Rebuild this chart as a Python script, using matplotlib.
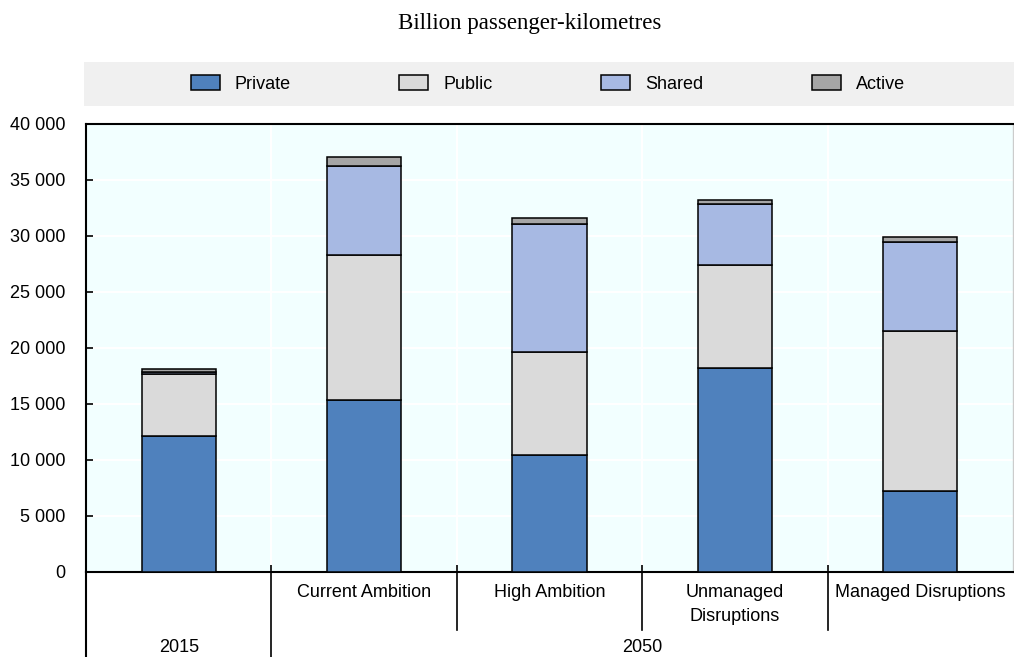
import matplotlib
matplotlib.use("Agg")
import matplotlib.pyplot as plt
from matplotlib.patches import Rectangle
from matplotlib.ticker import FuncFormatter
import numpy as np

# Data (billion passenger-km)
scenarios = ["", "Current Ambition", "High Ambition", "Unmanaged\nDisruptions", "Managed Disruptions"]
private = [12150, 15400, 10450, 18250, 7250]
public = [5500, 12900, 9200, 9150, 14300]
shared = [200, 7950, 11400, 5450, 7950]
active = [300, 830, 550, 330, 450]
series_names = ["Private", "Public", "Shared", "Active"]
colors = ["#4F81BD", "#DADADA", "#A7B9E3", "#A6A6A6"]

plt.rcParams["font.family"] = ["Liberation Sans", "DejaVu Sans"]
FS = 13

fig = plt.figure(figsize=(10.14, 6.57), dpi=100)
ax = fig.add_axes([86 / 1014, 1 - 572 / 657, 927 / 1014, 448 / 657])
ax.set_facecolor("#F2FFFF")

x = np.arange(len(scenarios))
bottom = np.zeros(len(scenarios))
handles = []
for vals, name, col in zip([private, public, shared, active], series_names, colors):
    b = ax.bar(x, vals, 0.4, bottom=bottom, color=col, edgecolor="black",
               linewidth=1.1, label=name, zorder=3)
    handles.append(b)
    bottom += np.array(vals)

ax.set_xlim(-0.5, 4.5)
ax.set_ylim(0, 40000)
ax.set_yticks(np.arange(0, 40001, 5000))
ax.yaxis.set_major_formatter(FuncFormatter(lambda v, p: f"{int(v):,}".replace(",", " ")))
ax.tick_params(axis="y", labelsize=FS, length=5, width=1.2, direction="in", pad=15)
ax.set_xticks([0.5, 1.5, 2.5, 3.5])
ax.set_xticklabels([])
ax.tick_params(axis="x", length=5, width=1.2, direction="in")

ax.grid(True, color="white", linewidth=1.5, zorder=0)
ax.set_axisbelow(True)

for s in ["left", "bottom", "top"]:
    ax.spines[s].set_color("black")
    ax.spines[s].set_linewidth(1.5)
ax.spines["right"].set_color("#CCCCCC")
ax.spines["right"].set_linewidth(1.0)

# category labels and group separators
trans = ax.get_xaxis_transform()
for i, lab in enumerate(scenarios):
    if lab:
        ax.text(i, -0.026, lab, transform=trans, ha="center", va="top",
                fontsize=FS, linespacing=1.55)
for xs in [1.5, 2.5, 3.5]:
    ax.plot([xs, xs], [0, -0.13], transform=trans, color="black", lw=1.2, clip_on=False)
ax.plot([0.5, 0.5], [0, -0.20], transform=trans, color="black", lw=1.2, clip_on=False)
ax.plot([-0.5, -0.5], [0, -0.20], transform=trans, color="black", lw=1.5, clip_on=False)
ax.text(0, -0.168, "2015", transform=trans, ha="center", va="center", fontsize=FS)
ax.text(2.5, -0.168, "2050", transform=trans, ha="center", va="center", fontsize=FS)

# legend band
fig.patches.append(Rectangle((84 / 1014, 1 - 106 / 657), 930 / 1014, 44 / 657,
                             transform=fig.transFigure, facecolor="#F0F0F0",
                             edgecolor="none", zorder=0))
fig.legend(handles=handles, labels=series_names, loc="center", ncol=4,
           bbox_to_anchor=(548 / 1014, 1 - 84 / 657), frameon=False, fontsize=FS,
           handlelength=1.6, handleheight=0.9, handletextpad=0.85, columnspacing=6.0)

fig.text(530 / 1014, 1 - 23 / 657, "Billion passenger-kilometres", ha="center", va="center",
         fontsize=16.5, family=["Liberation Serif", "DejaVu Serif"])

fig.savefig("out.png", dpi=100)
